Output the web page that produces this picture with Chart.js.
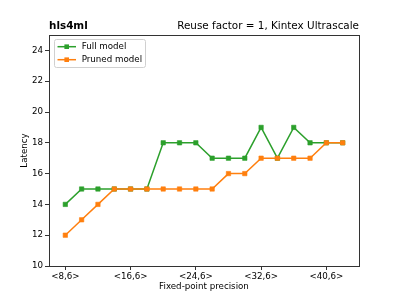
<!DOCTYPE html>
<html><head><meta charset="utf-8">
<script src="https://cdn.jsdelivr.net/npm/chart.js@4.4.0/dist/chart.umd.min.js"></script>
<style>html,body{margin:0;padding:0;background:#fff;}canvas{display:block;}</style>
</head><body>
<canvas id="c" width="399" height="299"></canvas>
<script>
const precisionBits = [8,10,12,14,16,18,20,22,24,26,28,30,32,34,36,38,40,42];
const fullModel   = [14,15,15,15,15,15,18,18,18,17,17,17,19,17,19,18,18,18];
const prunedModel = [12,13,14,15,15,15,15,15,15,15,16,16,17,17,17,17,18,18];
const xTickValues = [8,16,24,32,40];
const yTickValues = [10,12,14,16,18,20,22,24];
const seriesNames = ['Full model','Pruned model'];
const titleLeft = 'hls4ml';
const titleRight = 'Reuse factor = 1, Kintex Ultrascale';
const xLabel = 'Fixed-point precision';
const yLabel = 'Latency';

const GREEN = '#2ca02c', ORANGE = '#ff7f0e';
const FONT = '"DejaVu Sans", sans-serif';
const FS = 8.7;
const AX = '#333';

const mk = (ys) => precisionBits.map((b,i)=>({x:b,y:ys[i]}));

const deco = {
  id:'deco',
  beforeDraw(chart){
    const ctx=chart.ctx; ctx.save(); ctx.fillStyle='#fff'; ctx.fillRect(0,0,chart.width,chart.height); ctx.restore();
  },
  afterDraw(chart){
    const ctx=chart.ctx, a=chart.chartArea;
    ctx.save();
    ctx.strokeStyle=AX; ctx.lineWidth=1;
    ctx.strokeRect(Math.round(a.left)+0.5, Math.round(a.top)+0.5, Math.round(a.right-a.left), Math.round(a.bottom-a.top));
    // titles
    ctx.fillStyle='#000'; ctx.textBaseline='alphabetic';
    ctx.font='bold 10.4px '+FONT; ctx.textAlign='left';
    ctx.fillText(titleLeft, a.left, 28.7);
    ctx.font='10.4px '+FONT; ctx.textAlign='right';
    ctx.fillText(titleRight, a.right, 28.7);
    // legend
    const lx=54.5, ly=39.5, lw=91, lh=28;
    ctx.beginPath();
    if (ctx.roundRect) ctx.roundRect(lx,ly,lw,lh,2); else ctx.rect(lx,ly,lw,lh);
    ctx.fillStyle='rgba(255,255,255,0.8)'; ctx.fill();
    ctx.strokeStyle='#d0d0d0'; ctx.lineWidth=1; ctx.stroke();
    const cols=[GREEN,ORANGE], rows=[46.7,59.7];
    ctx.font=FS+'px '+FONT; ctx.textAlign='left'; ctx.textBaseline='middle';
    seriesNames.forEach((n,i)=>{
      const y=rows[i];
      ctx.strokeStyle=cols[i]; ctx.lineWidth=1.5;
      ctx.beginPath(); ctx.moveTo(57.5,y); ctx.lineTo(76,y); ctx.stroke();
      ctx.fillStyle=cols[i]; ctx.fillRect(66.7-2.3,y-2.3,4.6,4.6);
      ctx.fillStyle='#000'; ctx.fillText(n,81.7,y+0.5);
    });
    ctx.restore();
  }
};

new Chart(document.getElementById('c'),{
  type:'line',
  data:{datasets:[
    {label:seriesNames[0],data:mk(fullModel),borderColor:GREEN,backgroundColor:GREEN,borderWidth:1.5,pointStyle:'rect',pointRadius:3.1,pointBorderWidth:0.6,pointBorderColor:GREEN,tension:0,order:1},
    {label:seriesNames[1],data:mk(prunedModel),borderColor:ORANGE,backgroundColor:ORANGE,borderWidth:1.5,pointStyle:'rect',pointRadius:3.1,pointBorderWidth:0.6,pointBorderColor:ORANGE,tension:0,order:0}
  ]},
  options:{
    responsive:false,animation:false,devicePixelRatio:1,
    layout:{padding:{left:0,right:40,top:35,bottom:0}},
    plugins:{legend:{display:false},tooltip:{enabled:false},title:{display:false}},
    scales:{
      x:{type:'linear',min:6,max:44,
        afterFit(s){s.height=33;},
        afterBuildTicks(s){s.ticks=xTickValues.map(v=>({value:v}));},
        grid:{display:true,drawOnChartArea:false,drawTicks:true,tickLength:4,color:AX,tickColor:AX},
        border:{display:true,color:AX,width:1},
        ticks:{color:'#000',font:{family:FONT,size:FS},padding:2,maxRotation:0,autoSkip:false,callback:v=>'<'+v+',6>'},
        title:{display:true,text:xLabel,color:'#000',font:{family:FONT,size:FS},padding:{top:0,bottom:7}}
      },
      y:{type:'linear',min:10,max:25,
        afterFit(s){s.width=49;},
        afterBuildTicks(s){s.ticks=yTickValues.map(v=>({value:v}));},
        grid:{display:true,drawOnChartArea:false,drawTicks:true,tickLength:4,color:AX,tickColor:AX},
        border:{display:true,color:AX,width:1},
        ticks:{color:'#000',font:{family:FONT,size:FS},padding:2,callback:v=>String(v)},
        title:{display:true,text:yLabel,color:'#000',font:{family:FONT,size:FS},padding:{top:20,bottom:0}}
      }
    }
  },
  plugins:[deco]
});
</script>
</body></html>
